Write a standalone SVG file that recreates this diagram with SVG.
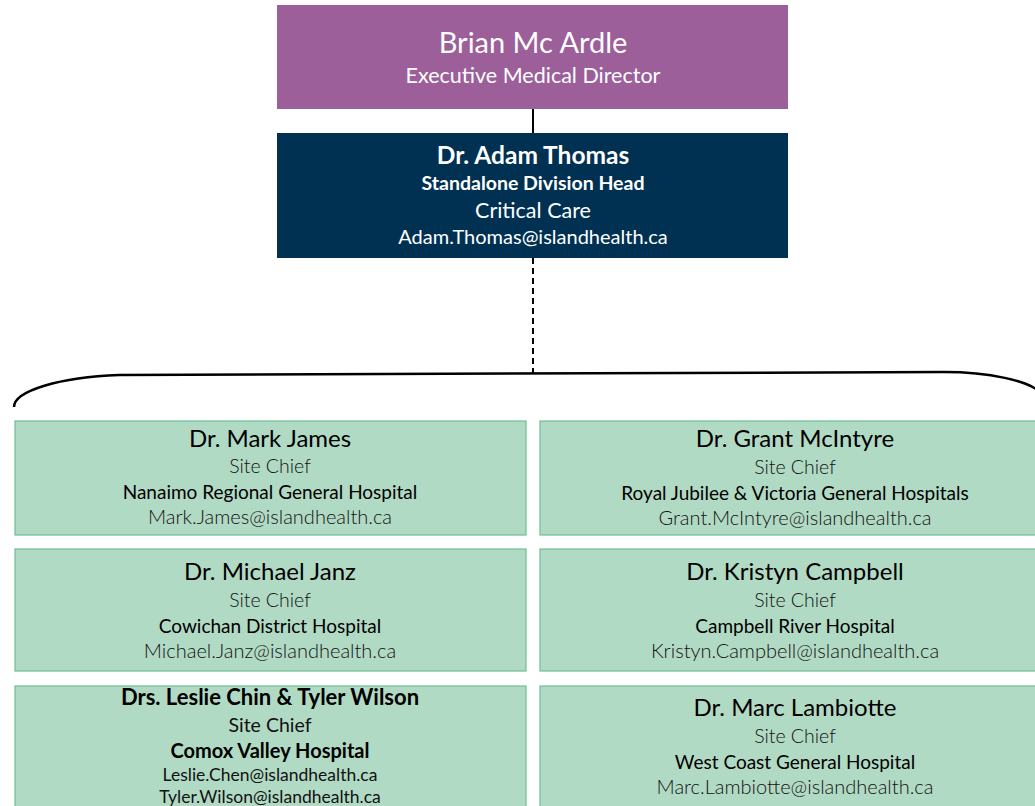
<svg xmlns="http://www.w3.org/2000/svg" width="1035" height="806" viewBox="0 0 1035 806">
<style>
text{font-family:Lato,"Carlito","Liberation Sans",sans-serif;text-anchor:middle}
.w{fill:#ffffff}
.g{fill:#B1DAC5;stroke:#6DBF96;stroke-width:1.2}
.nm{font-size:24px;fill:#000}
.sc{font-size:19.5px;font-weight:300;fill:#111}
.hs{font-size:19px;font-weight:400;fill:#000}
.em{font-size:20px;font-weight:300;fill:#111}
</style>
<rect width="1035" height="806" fill="#fff"/>
<g id="connectors" fill="none" stroke="#000">
<line x1="533" y1="109" x2="533" y2="133" stroke-width="2"/>
<line x1="533" y1="258" x2="533" y2="373" stroke-width="2" stroke-dasharray="6,4"/>
<path d="M14,407 C14,391 60,377 119,375 L944,372 C990,372 1028,381 1040,392" stroke-width="2.5"/>
</g>
<g id="director">
<rect x="277" y="5" width="511" height="104" fill="#9C5F99"/>
<text x="533" y="53" class="w" font-size="29">Brian Mc Ardle</text>
<text x="533" y="83" class="w" font-size="21.5">Executive Medical Director</text>
</g>
<g id="head">
<rect x="277" y="133" width="511" height="125" fill="#003152"/>
<text x="533" y="164" class="w" font-size="24.5" font-weight="700">Dr. Adam Thomas</text>
<text x="533" y="190" class="w" font-size="19.5" font-weight="700">Standalone Division Head</text>
<text x="533" y="218" class="w" font-size="21.5">Critical Care</text>
<text x="533" y="244" class="w" font-size="20">Adam.Thomas@islandhealth.ca</text>
</g>
<g id="mark-james">
<rect x="15" y="421" width="511" height="114" class="g"/>
<text x="270" y="447" class="nm">Dr. Mark James</text>
<text x="270" y="473" class="sc">Site Chief</text>
<text x="270" y="499" class="hs">Nanaimo Regional General Hospital</text>
<text x="270" y="524" class="em">Mark.James@islandhealth.ca</text>
</g>
<g id="grant-mcintyre">
<rect x="540" y="421" width="500" height="114" class="g"/>
<text x="795" y="447" class="nm">Dr. Grant McIntyre</text>
<text x="795" y="474" class="sc">Site Chief</text>
<text x="795" y="500" class="hs">Royal Jubilee &amp; Victoria General Hospitals</text>
<text x="795" y="525" class="em">Grant.McIntyre@islandhealth.ca</text>
</g>
<g id="michael-janz">
<rect x="15" y="549" width="511" height="122" class="g"/>
<text x="270" y="580" class="nm">Dr. Michael Janz</text>
<text x="270" y="607" class="sc">Site Chief</text>
<text x="270" y="633" class="hs">Cowichan District Hospital</text>
<text x="270" y="658" class="em">Michael.Janz@islandhealth.ca</text>
</g>
<g id="kristyn-campbell">
<rect x="540" y="549" width="500" height="122" class="g"/>
<text x="795" y="580" class="nm">Dr. Kristyn Campbell</text>
<text x="795" y="607" class="sc">Site Chief</text>
<text x="795" y="633" class="hs">Campbell River Hospital</text>
<text x="795" y="658" class="em">Kristyn.Campbell@islandhealth.ca</text>
</g>
<g id="chin-wilson">
<rect x="15" y="686" width="511" height="130" class="g"/>
<text x="270" y="705" font-size="22" font-weight="700" fill="#000">Drs. Leslie Chin &amp; Tyler Wilson</text>
<text x="270" y="732" font-size="19.5" fill="#111">Site Chief</text>
<text x="270" y="758" font-size="20" font-weight="700" fill="#000">Comox Valley Hospital</text>
<text x="270" y="781" font-size="17.5" fill="#111">Leslie.Chen@islandhealth.ca</text>
<text x="270" y="803" font-size="17.5" fill="#111">Tyler.Wilson@islandhealth.ca</text>
</g>
<g id="marc-lambiotte">
<rect x="540" y="686" width="500" height="130" class="g"/>
<text x="795" y="716" class="nm">Dr. Marc Lambiotte</text>
<text x="795" y="743" class="sc">Site Chief</text>
<text x="795" y="769" class="hs">West Coast General Hospital</text>
<text x="795" y="794" class="em">Marc.Lambiotte@islandhealth.ca</text>
</g>
</svg>
